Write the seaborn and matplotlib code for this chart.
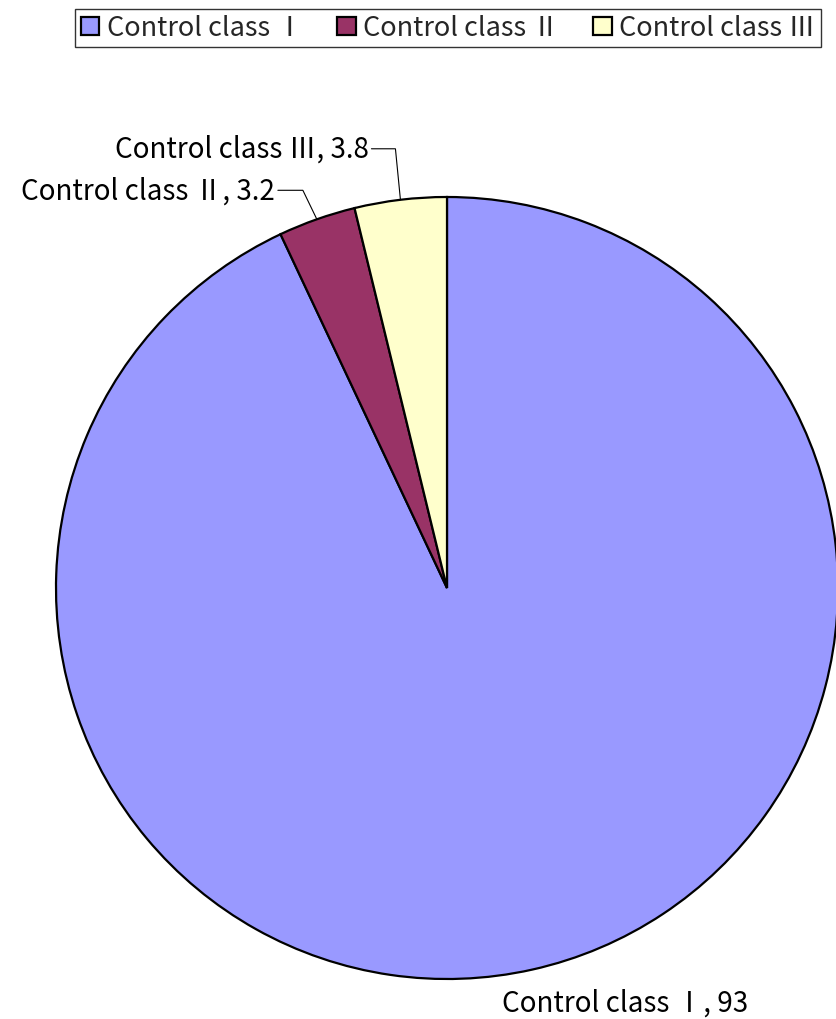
import numpy as np
import matplotlib
matplotlib.use("Agg")
import matplotlib.pyplot as plt
from matplotlib.patches import Patch
import seaborn as sns

# Share of each control class
categories = ["Control class Ⅰ", "Control class Ⅱ", "Control class Ⅲ"]
values = [93, 3.2, 3.8]
value_labels = ["93", "3.2", "3.8"]
colors = ["#9999FF", "#993366", "#FFFFCC"]

sns.set_theme(style="white")
plt.rcParams["font.family"] = ["Noto Sans CJK JP", "DejaVu Sans"]

W, H = 837, 1020
fig = plt.figure(figsize=(W / 100, H / 100), dpi=100)
fig.patch.set_facecolor("white")

R = 391  # pie radius in pixels
cx, cy = 447, 589
ax = fig.add_axes([(cx - R) / W, (H - cy - R) / H, 2 * R / W, 2 * R / H])

palette = sns.color_palette(colors)
wedges, _ = ax.pie(values, colors=palette, startangle=90, counterclock=False,
                   radius=1, wedgeprops=dict(edgecolor="black", linewidth=1.6),
                   frame=False)
ax.set_xlim(-1, 1)
ax.set_ylim(-1, 1)
ax.set_aspect("equal")
ax.axis("off")

px = 1.0 / R  # one pixel in data units
fs = 20

# label placement per slice: (knee dx, knee dy, horizontal run) in pixels
placement = [None, (-14, 29, 25), (-5, 51, 24)]

for w, cat, lab, pl in zip(wedges, categories, value_labels, placement):
    mid = np.deg2rad((w.theta1 + w.theta2) / 2)
    x0, y0 = np.cos(mid), np.sin(mid)
    text = f"{cat}, {lab}"
    if pl is None:
        # large slice: label sits under the rim
        ax.text(x0 - 30 * px, y0 - 33 * px, text, ha="left", va="center",
                fontsize=fs, color="black", clip_on=False)
    else:
        # small slices at the top: leader line up and across to the label
        kdx, kdy, run = pl
        kx, ky = x0 + kdx * px, y0 + kdy * px
        ex = kx - run * px
        ax.plot([x0, kx, ex], [y0, ky, ky], color="black", lw=0.8,
                clip_on=False, solid_joinstyle="miter")
        ax.text(ex - 3 * px, ky, text, ha="right", va="center",
                fontsize=fs, color="black", clip_on=False)

handles = [Patch(facecolor=c, edgecolor="black", linewidth=1.6) for c in palette]
leg = fig.legend(handles, categories, loc="upper right", ncol=3,
                 bbox_to_anchor=(821 / W, 1 - 10 / H), fontsize=19.5,
                 frameon=True, fancybox=False, shadow=False,
                 handlelength=0.68, handleheight=0.68, handletextpad=0.28,
                 columnspacing=1.25, borderpad=0.2, borderaxespad=0)
leg.get_frame().set_edgecolor("black")
leg.get_frame().set_linewidth(1.0)

fig.savefig("out.png", dpi=100, facecolor="white")
